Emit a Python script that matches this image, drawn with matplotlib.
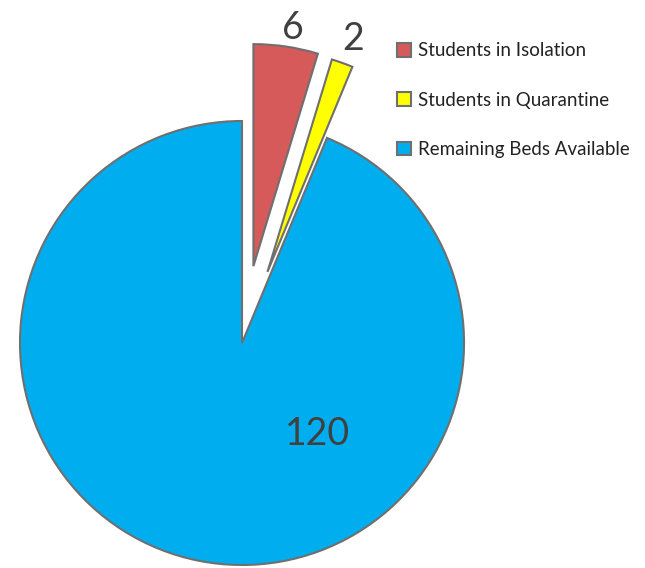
import matplotlib.pyplot as plt

labels = ["Students in Isolation", "Students in Quarantine", "Remaining Beds Available"]
values = [6, 2, 120]
colors = ["#D65A5A", "#FFFF00", "#00AEEF"]
explode = [0.35, 0.34, 0]
# label positions in pie-radius units
label_pos = [(0.23, 1.42), (0.50, 1.37), (0.34, -0.41)]

plt.rcParams['font.family'] = ['Lato', 'DejaVu Sans']

fig = plt.figure(figsize=(6.45, 5.68), dpi=100)
ax = fig.add_axes([0, 0, 1, 1])
wedges, _ = ax.pie(values, colors=colors, explode=explode, startangle=90,
                   counterclock=False, radius=1,
                   wedgeprops=dict(edgecolor="#6f6f6f", linewidth=1.5))
for v, (x, y) in zip(values, label_pos):
    ax.text(x, y, str(v), ha="center", va="center", fontsize=27, color="#404040")

ax.set_xlim(-1.090, 1.815)
ax.set_ylim(-1.0135, 1.545)
ax.set_aspect("auto")
ax.axis("off")

leg = fig.legend(wedges, labels, loc="upper left", bbox_to_anchor=(0.590, 0.955),
                 frameon=False, fontsize=13.5, handlelength=0.75, handleheight=0.75,
                 handletextpad=0.35, labelspacing=1.72)
for t in leg.get_texts():
    t.set_color("#222222")

fig.savefig("out.png", dpi=100)
